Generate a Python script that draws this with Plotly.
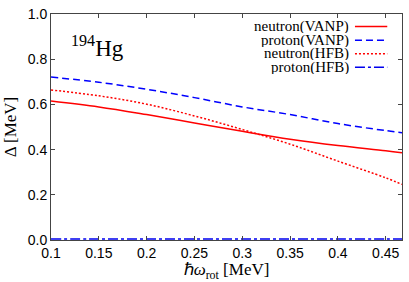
import plotly.graph_objects as go

omega = [0.10, 0.15, 0.20, 0.25, 0.30, 0.35, 0.40, 0.45, 0.467]
neutron_vanp = [0.615, 0.589, 0.555, 0.518, 0.481, 0.446, 0.418, 0.395, 0.386]
proton_vanp = [0.721, 0.698, 0.667, 0.630, 0.589, 0.555, 0.515, 0.484, 0.475]
neutron_hfb = [0.664, 0.638, 0.601, 0.549, 0.489, 0.424, 0.349, 0.275, 0.246]
proton_hfb = [0.004, 0.004, 0.004, 0.004, 0.004, 0.004, 0.004, 0.004, 0.004]

names = ["neutron(VANP)", "proton(VANP)", "neutron(HFB)", "proton(HFB)"]
colors = ["#ff0000", "#0000ff", "#ff0000", "#0000ee"]
dashes = ["solid", "7px,4px", "2px,2px", "10px,3px,3px,3px"]
series = [neutron_vanp, proton_vanp, neutron_hfb, proton_hfb]

fig = go.Figure()
for nm, ys, c, d in zip(names, series, colors, dashes):
    fig.add_trace(go.Scatter(x=omega, y=ys, mode="lines", name=nm,
                             line=dict(color=c, width=1.5, dash=d, shape="spline"),
                             showlegend=False))

# custom legend (text right, sample line on the right)
legend_y = [20, 34, 48, 62]
H = 282
top, bottom = 7, 42
ph = H - top - bottom
for nm, c, d, yy in zip(names, colors, dashes, legend_y):
    yp = 1 - (yy - top) / ph
    fig.add_annotation(x=0.853, y=yp, xref="paper", yref="paper", text=nm,
                       showarrow=False, xanchor="right", yanchor="middle",
                       height=13, borderpad=0,
                       font=dict(family="Liberation Serif", size=15, color="black"))
    fig.add_shape(type="line", xref="paper", yref="paper",
                  x0=0.866, x1=0.958, y0=yp, y1=yp,
                  line=dict(color=c, width=1.5, dash=d))

fig.add_annotation(x=0.05, y=0.93, xref="paper", yref="paper",
                   text="<sup>194</sup>Hg", showarrow=False, xanchor="left",
                   font=dict(family="Liberation Serif", size=23, color="black"))

fig.update_layout(
    width=409, height=282,
    margin=dict(l=51, r=6, t=7, b=42),
    plot_bgcolor="white", paper_bgcolor="white",
    font=dict(family="Liberation Sans", size=14, color="black"),
    xaxis=dict(range=[0.1, 0.467], tickvals=[0.1, 0.15, 0.2, 0.25, 0.3, 0.35, 0.4, 0.45],
               ticktext=["0.1", "0.15", "0.2", "0.25", "0.3", "0.35", "0.4", "0.45"],
               ticks="inside", ticklen=4, tickcolor="#444", mirror="ticks",
               ticklabeloverflow="allow",
               showline=True, linecolor="#444", linewidth=1, showgrid=False, zeroline=False,
               title=dict(text="ℏ<i>ω</i><sub>rot</sub> [MeV]", standoff=2,
                          font=dict(family="Liberation Serif", size=17))),
    yaxis=dict(range=[0, 1.0], tickvals=[0, 0.2, 0.4, 0.6, 0.8, 1.0],
               ticktext=["0.0", "0.2", "0.4", "0.6", "0.8", "1.0"],
               ticks="inside", ticklen=4, tickcolor="#444", mirror="ticks",
               ticklabeloverflow="allow",
               showline=True, linecolor="#444", linewidth=1, showgrid=False, zeroline=False,
               title=dict(text="Δ [MeV]", standoff=6,
                          font=dict(family="Liberation Serif", size=17))),
)

fig.write_html("out.html", config={"displayModeBar": False},
               post_script="document.body.style.margin='0px';document.body.style.overflow='hidden';")
